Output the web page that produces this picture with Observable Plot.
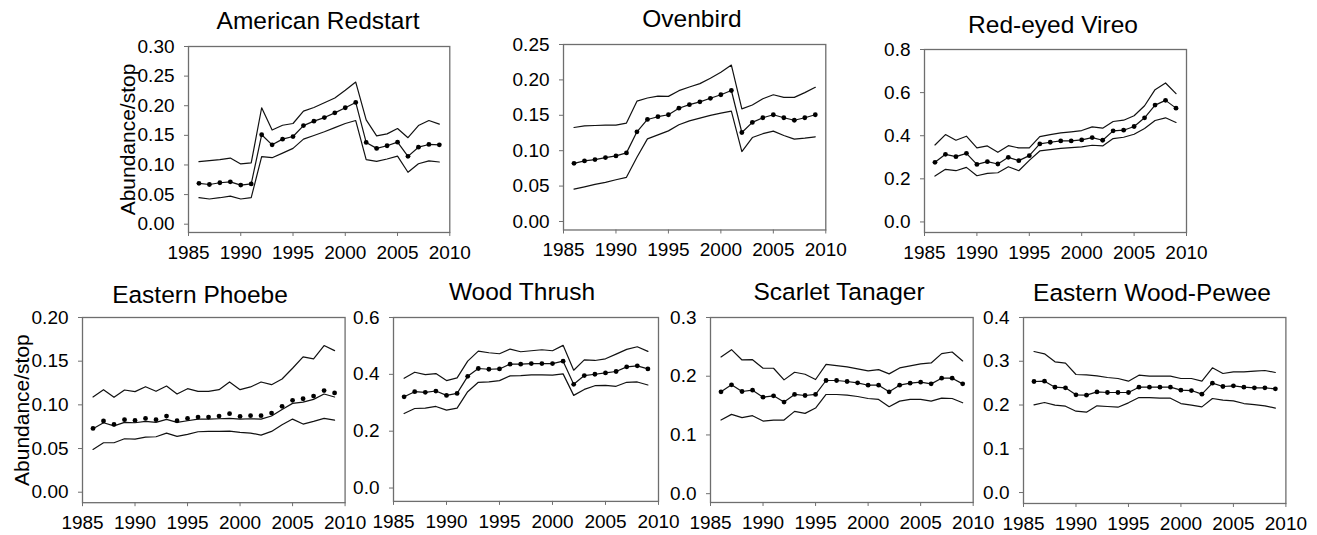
<!DOCTYPE html>
<html><head><meta charset="utf-8">
<script src="https://cdn.jsdelivr.net/npm/d3@7"></script>
<script src="https://cdn.jsdelivr.net/npm/@observablehq/plot@0.6"></script>
<style>
html,body{margin:0;padding:0;background:#fff;}
#chart{position:relative;width:1317px;height:535px;overflow:hidden;font-family:"Liberation Sans",Arial,sans-serif;background:#fff;}
.ttl{position:absolute;font-size:24.5px;line-height:24px;white-space:nowrap;transform:translateX(-50%);color:#000;}
.pnl{position:absolute;}
</style></head><body><div id="chart"></div>
<script>
// ---------- data ----------
const years = [1986,1987,1988,1989,1990,1991,1992,1993,1994,1995,1996,1997,1998,1999,2000,2001,2002,2003,2004,2005,2006,2007,2008,2009];
const xTicks = [1985,1990,1995,2000,2005,2010];
const yLabel = "Abundance/stop";

const redstartTitle = "American Redstart";
const redstartEst   = [0.069,0.067,0.070,0.0715,0.066,0.068,0.151,0.134,0.1436,0.148,0.1665,0.174,0.180,0.188,0.1966,0.2056,0.138,0.128,0.1324,0.1385,0.1145,0.130,0.1346,0.134];
const redstartUpper = [0.1056,0.1073,0.109,0.1117,0.1017,0.1034,0.1966,0.159,0.167,0.170,0.191,0.197,0.205,0.213,0.226,0.240,0.176,0.149,0.1525,0.1615,0.146,0.1665,0.175,0.169];
const redstartLower = [0.0447,0.0425,0.0447,0.0475,0.0425,0.0447,0.114,0.1123,0.120,0.128,0.1436,0.1497,0.156,0.163,0.170,0.175,0.109,0.106,0.110,0.115,0.0877,0.102,0.107,0.105];
const redstartTicks = [0,0.05,0.10,0.15,0.20,0.25,0.30];

const ovenbirdTitle = "Ovenbird";
const ovenbirdEst   = [0.0822,0.0855,0.0874,0.0903,0.0926,0.0969,0.1267,0.1441,0.148,0.1508,0.160,0.165,0.169,0.174,0.179,0.185,0.1257,0.140,0.1465,0.1508,0.1465,0.143,0.1465,0.1508];
const ovenbirdUpper = [0.1328,0.135,0.1356,0.136,0.136,0.139,0.170,0.1744,0.177,0.1767,0.1848,0.190,0.1947,0.2023,0.2108,0.221,0.159,0.1645,0.1734,0.179,0.1753,0.1753,0.182,0.1895];
const ovenbirdLower = [0.0458,0.049,0.0525,0.0553,0.059,0.0624,0.0907,0.1167,0.1224,0.128,0.1366,0.1422,0.146,0.1498,0.1531,0.156,0.0988,0.1186,0.124,0.1276,0.1215,0.1163,0.1177,0.1196];
const ovenbirdTicks = [0,0.05,0.10,0.15,0.20,0.25];

const vireoTitle = "Red-eyed Vireo";
const vireoEst   = [0.2765,0.3138,0.303,0.3184,0.267,0.2796,0.2687,0.2998,0.2843,0.3076,0.362,0.3697,0.376,0.376,0.3806,0.3915,0.379,0.4225,0.4256,0.4427,0.4831,0.542,0.564,0.528];
const vireoUpper = [0.357,0.4054,0.379,0.3977,0.3433,0.3526,0.323,0.354,0.3433,0.3433,0.396,0.4054,0.413,0.418,0.424,0.441,0.435,0.466,0.472,0.4924,0.539,0.6136,0.6447,0.595];
const vireoLower = [0.2128,0.2439,0.2377,0.2532,0.2144,0.2252,0.2283,0.2563,0.2377,0.2858,0.3293,0.3355,0.3417,0.3449,0.348,0.3557,0.3526,0.3868,0.393,0.407,0.4334,0.4707,0.4831,0.4614];
const vireoTicks = [0,0.2,0.4,0.6,0.8];

const phoebeTitle = "Eastern Phoebe";
const phoebeEst   = [0.073,0.0815,0.0776,0.083,0.0822,0.0845,0.083,0.0872,0.0818,0.0845,0.086,0.086,0.0872,0.0899,0.0868,0.0876,0.0876,0.0906,0.0983,0.1052,0.107,0.110,0.1163,0.1136];
const phoebeMid   = [0.0727,0.0795,0.076,0.080,0.0795,0.081,0.080,0.0834,0.080,0.0818,0.0837,0.0837,0.0841,0.0845,0.0837,0.0841,0.0837,0.0872,0.0948,0.1017,0.1032,0.1063,0.1124,0.109];
const phoebeUpper = [0.109,0.1174,0.1086,0.117,0.1151,0.1208,0.1155,0.1216,0.1124,0.1185,0.1155,0.1155,0.1174,0.1262,0.1174,0.1205,0.1262,0.1231,0.1296,0.1419,0.1549,0.1526,0.1679,0.1621];
const phoebeLower = [0.049,0.0566,0.0566,0.0612,0.0608,0.0631,0.0635,0.0677,0.0639,0.0662,0.0692,0.0696,0.0696,0.070,0.0685,0.0677,0.0654,0.0696,0.0772,0.0837,0.078,0.0811,0.0845,0.0826];
const phoebeTicks = [0,0.05,0.10,0.15,0.20];

const thrushTitle = "Wood Thrush";
const thrushEst   = [0.321,0.339,0.3366,0.3413,0.326,0.333,0.393,0.4205,0.418,0.419,0.4358,0.4358,0.438,0.438,0.438,0.4464,0.365,0.3957,0.4004,0.405,0.41,0.4264,0.43,0.419];
const thrushUpper = [0.386,0.4075,0.399,0.4027,0.378,0.3874,0.4464,0.4819,0.476,0.4724,0.489,0.4795,0.483,0.4866,0.483,0.502,0.4145,0.451,0.4488,0.4547,0.4712,0.4878,0.497,0.4807];
const thrushLower = [0.2622,0.2799,0.281,0.287,0.274,0.281,0.339,0.372,0.3732,0.378,0.3945,0.3957,0.398,0.398,0.397,0.4016,0.326,0.347,0.360,0.3614,0.358,0.372,0.3732,0.3626];
const thrushTicks = [0,0.2,0.4,0.6];

const tanagerTitle = "Scarlet Tanager";
const tanagerEst   = [0.1734,0.1853,0.174,0.1763,0.1644,0.1667,0.156,0.169,0.1672,0.169,0.1927,0.1927,0.191,0.1887,0.1847,0.1847,0.1734,0.1847,0.1881,0.1898,0.187,0.1966,0.1966,0.187];
const tanagerUpper = [0.2328,0.2452,0.2277,0.2282,0.2136,0.2136,0.1938,0.2068,0.2034,0.1944,0.2203,0.218,0.2158,0.2124,0.209,0.2113,0.204,0.2141,0.2175,0.2209,0.2226,0.2384,0.2412,0.226];
const tanagerLower = [0.1254,0.135,0.1294,0.1328,0.1237,0.1254,0.1254,0.1401,0.1367,0.1458,0.1689,0.1689,0.1678,0.1655,0.1621,0.1605,0.148,0.1576,0.1605,0.1605,0.1576,0.1627,0.1621,0.1548];
const tanagerTicks = [0,0.1,0.2,0.3];

const peweeTitle = "Eastern Wood-Pewee";
const peweeEst   = [0.2537,0.2545,0.2408,0.2392,0.2232,0.2225,0.230,0.2286,0.2286,0.2286,0.2408,0.2408,0.2408,0.2408,0.234,0.2331,0.2248,0.2499,0.2423,0.2438,0.2408,0.2392,0.2392,0.237];
const peweeUpper = [0.3223,0.317,0.2987,0.2956,0.2697,0.269,0.2667,0.2629,0.2606,0.2545,0.2682,0.2659,0.2659,0.2659,0.2606,0.2606,0.2545,0.285,0.272,0.2758,0.2758,0.2773,0.2789,0.2743];
const peweeLower = [0.2004,0.2057,0.1996,0.1973,0.1859,0.1836,0.1981,0.1966,0.195,0.205,0.2171,0.2171,0.2156,0.2156,0.2034,0.1996,0.1958,0.2149,0.211,0.2095,0.2034,0.2011,0.1981,0.1928];
const peweeTicks = [0,0.1,0.2,0.3,0.4];

// ---------- panel definitions (data refs) ----------
const panels = [
  {title: redstartTitle, est: redstartEst, mid: redstartEst, up: redstartUpper, lo: redstartLower, ticks: redstartTicks, fmt: ".2f", ylab: true},
  {title: ovenbirdTitle, est: ovenbirdEst, mid: ovenbirdEst, up: ovenbirdUpper, lo: ovenbirdLower, ticks: ovenbirdTicks, fmt: ".2f"},
  {title: vireoTitle, est: vireoEst, mid: vireoEst, up: vireoUpper, lo: vireoLower, ticks: vireoTicks, fmt: ".1f"},
  {title: phoebeTitle, est: phoebeEst, mid: phoebeMid, up: phoebeUpper, lo: phoebeLower, ticks: phoebeTicks, fmt: ".2f", ylab: true},
  {title: thrushTitle, est: thrushEst, mid: thrushEst, up: thrushUpper, lo: thrushLower, ticks: thrushTicks, fmt: ".1f"},
  {title: tanagerTitle, est: tanagerEst, mid: tanagerEst, up: tanagerUpper, lo: tanagerLower, ticks: tanagerTicks, fmt: ".1f"},
  {title: peweeTitle, est: peweeEst, mid: peweeEst, up: peweeUpper, lo: peweeLower, ticks: peweeTicks, fmt: ".1f"}
];

// ---------- layout (frame box in page px, y-axis lower bound, title center) ----------
const layout = [
  {L: 187.7, R: 449,   T: 45.7,  B: 231.7, ymin: -0.014, tx: 318,  ty: 20.5},
  {L: 562.7, R: 825,   T: 44.3,  B: 229.8, ymin: -0.012, tx: 692,  ty: 18.5},
  {L: 924,   R: 1186,  T: 49.3,  B: 232.3, ymin: -0.049, tx: 1053, ty: 25},
  {L: 81.7,  R: 344.3, T: 316.5, B: 501.7, ymin: -0.012, tx: 200,  ty: 295},
  {L: 392.7, R: 657.7, T: 316.6, B: 500.5, ymin: -0.047, tx: 522,  ty: 292},
  {L: 710,   R: 972.7, T: 317.3, B: 502.3, ymin: -0.015, tx: 839,  ty: 292},
  {L: 1023.3,R: 1285.7,T: 317.3, B: 503.3, ymin: -0.025, tx: 1152, ty: 293}
];

const chart = document.getElementById("chart");
const FONT = '"Liberation Sans", Arial, sans-serif';

panels.forEach((p, i) => {
  const lay = layout[i];
  const ML = p.ylab ? 82 : 62, MR = 8, MT = 10, MB = 34;
  const W = (lay.R - lay.L) + ML + MR;
  const H = (lay.B - lay.T) + MT + MB;
  const rows = years.map((y, k) => ({year: y, est: p.est[k], mid: p.mid[k], up: p.up[k], lo: p.lo[k]}));
  const marks = [
    Plot.frame({stroke: "#6e6e6e", strokeWidth: 1.3}),
    Plot.axisX({ticks: xTicks, tickFormat: "d", tickSize: 4, tickPadding: 9, label: null, stroke: "#6e6e6e", fill: "black", fontSize: 19}),
    Plot.axisY({ticks: p.ticks, tickFormat: d3.format(p.fmt), tickSize: 4, tickPadding: 10, label: null, stroke: "#6e6e6e", fill: "black", fontSize: 19}),
    Plot.line(rows, {x: "year", y: "up", stroke: "#111", strokeWidth: 1.2}),
    Plot.line(rows, {x: "year", y: "lo", stroke: "#111", strokeWidth: 1.2}),
    Plot.line(rows, {x: "year", y: "mid", stroke: "#111", strokeWidth: 1.2}),
    Plot.dot(rows, {x: "year", y: "est", r: 2.4, fill: "black", stroke: "none"})
  ];
  if (p.ylab) {
    marks.push(Plot.text([yLabel], {frameAnchor: "left", textAnchor: "middle", lineAnchor: "middle", rotate: -90, dx: -60, fontSize: 21, fill: "black"}));
  }
  const svg = Plot.plot({
    width: W, height: H,
    marginLeft: ML, marginRight: MR, marginTop: MT, marginBottom: MB,
    style: {background: "transparent", fontFamily: FONT, fontSize: "19px", color: "black", overflow: "visible", maxWidth: "none"},
    x: {domain: [1985, 2010]},
    y: {domain: [lay.ymin, p.ticks[p.ticks.length - 1]]},
    marks
  });
  const wrap = document.createElement("div");
  wrap.className = "pnl";
  wrap.style.left = (lay.L - ML) + "px";
  wrap.style.top = (lay.T - MT) + "px";
  wrap.appendChild(svg);
  chart.appendChild(wrap);

  const t = document.createElement("div");
  t.className = "ttl";
  t.textContent = p.title;
  t.style.left = lay.tx + "px";
  t.style.top = (lay.ty - 12) + "px";
  chart.appendChild(t);
});
</script>
</body></html>
